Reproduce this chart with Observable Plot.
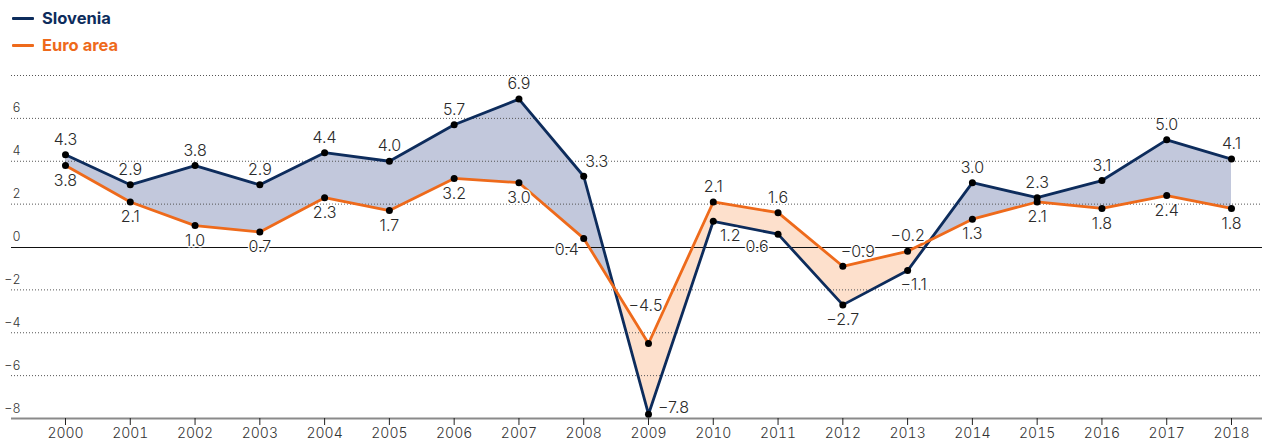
<!DOCTYPE html>
<html>
<head>
<meta charset="utf-8">
<script src="https://cdn.jsdelivr.net/npm/d3@7"></script>
<script src="https://cdn.jsdelivr.net/npm/@observablehq/plot@0.6"></script>
<style>
  html, body { margin: 0; padding: 0; background: #fff; overflow: hidden; }
  body { width: 1262px; height: 441px; font-family: Inter, "Noto Sans", sans-serif; }
  #legend { position: relative; height: 60px; }
  .item { position: absolute; left: 12px; display: flex; align-items: center; font-weight: 700; font-size: 16.5px; line-height: 20px; }
  .sw { width: 22px; height: 3px; margin-right: 8px; border-radius: 1px; }
  #chart svg { display: block; }
</style>
</head>
<body>
<div id="legend">
  <div class="item" style="top:8px;color:#0d2c5c"><span class="sw" style="background:#0d2c5c"></span>Slovenia</div>
  <div class="item" style="top:35px;color:#ee6a1b"><span class="sw" style="background:#ee6a1b"></span>Euro area</div>
</div>
<div id="chart"></div>
<script>
const years = [2000, 2001, 2002, 2003, 2004, 2005, 2006, 2007, 2008, 2009, 2010, 2011, 2012, 2013, 2014, 2015, 2016, 2017, 2018];
const slovenia = [4.3, 2.9, 3.8, 2.9, 4.4, 4.0, 5.7, 6.9, 3.3, -7.8, 1.2, 0.6, -2.7, -1.1, 3.0, 2.3, 3.1, 5.0, 4.1];
const euroArea = [3.8, 2.1, 1.0, 0.7, 2.3, 1.7, 3.2, 3.0, 0.4, -4.5, 2.1, 1.6, -0.9, -0.2, 1.3, 2.1, 1.8, 2.4, 1.8];
const yTicks = [6, 4, 2, 0, -2, -4, -6, -8];
const gridValues = [8, 6, 4, 2, -2, -4, -6];

const NAVY = "#0d2c5c", ORANGE = "#ee6a1b";
const data = years.map((year, i) => ({year, slo: slovenia[i], euro: euroArea[i]}));

// label placement (layout only)
const overrides = {
  "slo-2008": {dx: 13, dy: -14},
  "euro-2008": {dx: -17, dy: 11},
  "euro-2009": {dx: -3, dy: -38},
  "slo-2009": {dx: 25, dy: -6},
  "slo-2010": {dx: 17, dy: 15},
  "slo-2011": {dx: -21, dy: 13},
  "euro-2012": {dx: 15, dy: -14},
  "slo-2013": {dx: 6, dy: 14}
};
const labels = [];
years.forEach((year, i) => {
  const s = slovenia[i], e = euroArea[i];
  labels.push({year, value: s, key: "slo-" + year, above: s >= e});
  labels.push({year, value: e, key: "euro-" + year, above: e > s});
});
const fmt = d3.format(".1f");
const labelMarks = labels.map(l => {
  const o = overrides[l.key] || {dx: 0, dy: l.above ? -15 : 15};
  return Plot.text([l], {
    x: "year", y: "value", text: d => fmt(d.value),
    dx: o.dx, dy: o.dy, fontSize: 16, fontWeight: 300, fill: "#2a2a2a",
    stroke: "white", strokeWidth: 3
  });
});

const fillMark = Plot.differenceY(data, {
  x: "year", y1: "euro", y2: "slo",
  positiveFill: "#c2c8dc", negativeFill: "#fde0cc",
  fillOpacity: 1, stroke: "none"
});

const chart = Plot.plot({
  width: 1262,
  height: 381,
  marginLeft: 11,
  marginRight: 0,
  marginTop: 15,
  marginBottom: 23,
  x: {domain: [1999.1664, 2018.4786]},
  y: {domain: [-8, 8]},
  style: {fontFamily: "Inter, 'Noto Sans', sans-serif", background: "white", color: "#333", overflow: "visible"},
  marks: [
    fillMark,
    Plot.ruleY(gridValues, {stroke: "#555", strokeWidth: 1, strokeDasharray: "1,2"}),
    Plot.ruleY([0], {stroke: "#111", strokeWidth: 1, shapeRendering: "crispEdges"}),
    Plot.ruleY([-8], {stroke: "#8a8a8a", strokeWidth: 2}),
    Plot.axisY({ticks: yTicks, tickSize: 0, anchor: "left", label: null, dx: 18, dy: -10, fontSize: 12.5, fontWeight: 300, tickFormat: d3.format("d")}),
    Plot.axisX({ticks: years, label: null, tickFormat: d => String(d), tickSize: 7, tickPadding: 3, fontSize: 14, fontWeight: 300, stroke: "#222"}),
    Plot.line(data, {x: "year", y: "slo", stroke: NAVY, strokeWidth: 2.8}),
    Plot.line(data, {x: "year", y: "euro", stroke: ORANGE, strokeWidth: 2.8}),
    Plot.dot(data, {x: "year", y: "slo", r: 3.5, fill: "black"}),
    Plot.dot(data, {x: "year", y: "euro", r: 3.5, fill: "black"}),
    ...labelMarks
  ]
});
document.getElementById("chart").appendChild(chart);
</script>
</body>
</html>
